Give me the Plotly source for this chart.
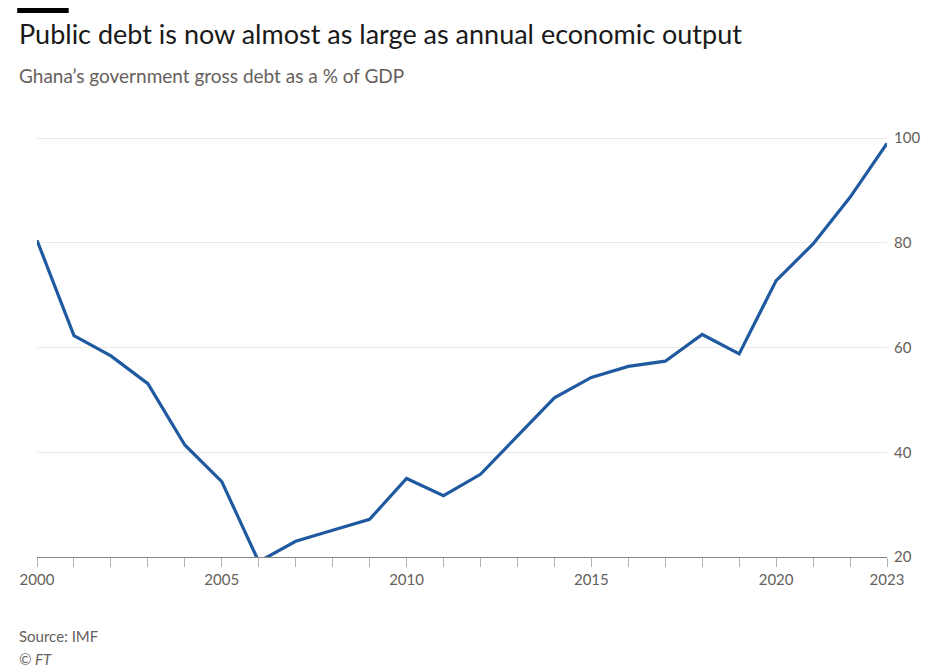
import plotly.graph_objects as go

years = list(range(2000, 2024))
debt = [80.5, 62.3, 58.4, 53.1, 41.4, 34.4, 19.1, 23.0, 25.1, 27.2, 35.0, 31.7,
        35.8, 43.2, 50.4, 54.3, 56.4, 57.4, 62.5, 58.8, 72.8, 79.8, 88.7, 99.0]
label_years = [2000, 2005, 2010, 2015, 2020, 2023]

fig = go.Figure()
fig.add_trace(go.Scatter(
    x=years, y=debt, mode='lines',
    line=dict(color='#1f5aa0', width=3.2),
    cliponaxis=False, showlegend=False, hoverinfo='x+y'
))

font = 'Lato, Open Sans, sans-serif'
PW, PH = 859, 445
fig.update_layout(
    width=932, height=664,
    margin=dict(l=20, r=53, t=104, b=115),
    plot_bgcolor='white', paper_bgcolor='white',
    font=dict(family=font, color='#66605c'),
    xaxis=dict(
        range=[2000, 2023], tickvals=years,
        ticktext=[str(y) if y in label_years else '' for y in years],
        ticks='outside', ticklen=9, tickcolor='#b8b3ae', tickwidth=1,
        showgrid=False, zeroline=False, showline=True, linecolor='#8a8580',
        tickfont=dict(size=15, color='#66605c'),
    ),
    yaxis=dict(
        range=[20, 105], side='right', tickvals=[20, 40, 60, 80, 100],
        showgrid=True, gridcolor='#ece8e4', zeroline=False,
        ticks='', tickfont=dict(size=15, color='#66605c'), ticklabelstandoff=6,
    ),
)
fig.add_shape(type='rect', xref='paper', yref='paper',
              x0=-20/PW, x1=32/PW, y0=1 + 99/PH, y1=1 + 104/PH,
              fillcolor='black', line_width=0)
fig.add_annotation(text='Public debt is now almost as large as annual economic output',
                   xref='paper', yref='paper', x=-20/PW, y=1 + 78/PH,
                   xanchor='left', yanchor='middle', showarrow=False,
                   font=dict(size=27, color='#1a1a1a', family=font))
fig.add_annotation(text='Ghana\u2019s government gross debt as a % of GDP',
                   xref='paper', yref='paper', x=-20/PW, y=1 + 37/PH,
                   xanchor='left', yanchor='middle', showarrow=False,
                   font=dict(size=19, color='#66605c', family=font))
fig.add_annotation(text='Source: IMF', xref='paper', yref='paper',
                   x=-20/PW, y=-79/PH, xanchor='left', yanchor='middle',
                   showarrow=False, font=dict(size=15, color='#66605c', family=font))
fig.add_annotation(text='<i>\u00a9 FT</i>', xref='paper', yref='paper',
                   x=-20/PW, y=-102/PH, xanchor='left', yanchor='middle',
                   showarrow=False, font=dict(size=15, color='#66605c', family=font))

fig.write_html('out.html')
